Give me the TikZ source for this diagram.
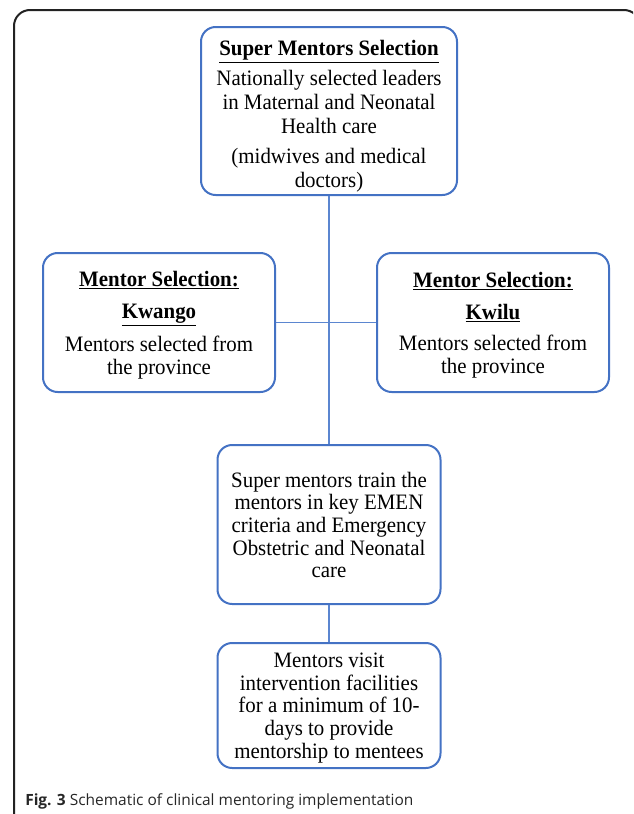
\documentclass[tikz,border=0pt]{standalone}
\usepackage{fontspec}
\setmainfont[FakeStretch=0.95]{Liberation Serif}
\newfontfamily\capfont{Open Sans}
\definecolor{boxblue}{HTML}{4472C4}
\definecolor{linkblue}{HTML}{5B86D0}
\definecolor{framegray}{HTML}{222222}
\begin{document}
\begin{tikzpicture}[x=0.75pt,y=-0.75pt,
  box/.style={draw=boxblue,line width=1.5pt,rounded corners=11pt,fill=white,
    inner sep=0pt,anchor=center},
  txt/.style={inner sep=0pt,align=center,anchor=center,
    font=\fontsize{16.5}{17}\selectfont},
  link/.style={draw=linkblue,line width=0.8pt}]
\useasboundingbox (0,0) rectangle (633,814);
\begin{scope}
\clip (0,0) rectangle (633,814);
\draw[framegray,line width=1.5pt,rounded corners=12pt] (14,830) -- (14,10) -- (640,10) -- (640,830);
\end{scope}
% boxes
\node[box,minimum width=256*0.75pt,minimum height=168*0.75pt] (super) at (329,111) {};
\node[box,minimum width=232*0.75pt,minimum height=139*0.75pt] (left) at (159,322.5) {};
\node[box,minimum width=232*0.75pt,minimum height=139*0.75pt] (right) at (493,322.5) {};
\node[box,minimum width=223*0.75pt,minimum height=159*0.75pt] (train) at (329,524.5) {};
\node[box,minimum width=223*0.75pt,minimum height=125*0.75pt] (visit) at (329,705.5) {};
% texts
\node[txt,font=\fontsize{16.5}{18}\selectfont] (supertxt) at (329,116)
  {\textbf{\underline{Super Mentors Selection}}\\[4.5pt]
   Nationally selected leaders\\ in Maternal and Neonatal\\ Health care\\[4.5pt]
   (midwives and medical\\ doctors)};
\node[txt] (lefttxt) at (159,325)
  {\textbf{\underline{Mentor Selection:}}\\[7pt]
   \textbf{\underline{Kwango}}\\[6.5pt]
   Mentors selected from\\ the province};
\node[txt] (righttxt) at (493,325)
  {\textbf{\underline{Mentor Selection:}}\\[7pt]
   \textbf{\underline{Kwilu}}\\[6.5pt]
   Mentors selected from\\ the province};
\node[txt] (traintxt) at (329,525)
  {Super mentors train the\\ mentors in key EMEN\\ criteria and Emergency\\ Obstetric and Neonatal\\ care};
\node[txt] (visittxt) at (329,708)
  {Mentors visit\\ intervention facilities\\ for a minimum of 10-\\ days to provide\\ mentorship to mentees};
% connectors
\draw[link] (super.south) -- (train.north);
\draw[link] (left.east) -- (right.west);
\draw[link] (train.south) -- (visit.north);
% caption
\node[anchor=base west,inner sep=0pt,font=\capfont\fontsize{11.6}{14}\selectfont,text=black!85] (cap) at (25,805)
  {\textbf{Fig. 3} Schematic of clinical mentoring implementation};
\end{tikzpicture}
\end{document}
